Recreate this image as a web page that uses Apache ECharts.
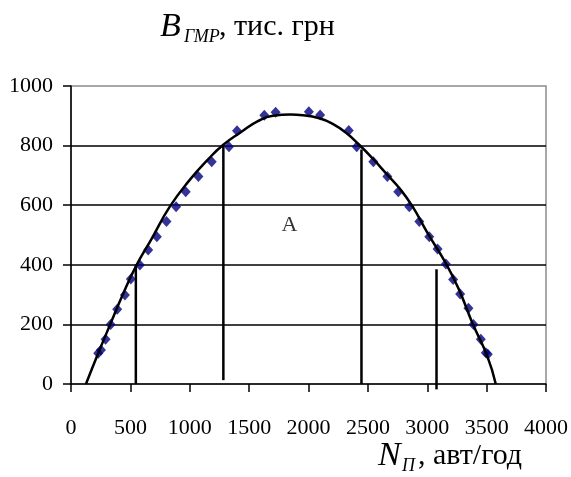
<!DOCTYPE html>
<html>
<head>
<meta charset="utf-8">
<script src="https://cdn.jsdelivr.net/npm/echarts@6/dist/echarts.min.js"></script>
<style>html,body{margin:0;padding:0;background:#fff;}#c{width:571px;height:477px;}</style>
</head>
<body>
<div id="c"></div>
<script>
// Observed points (diamonds)
const pointX = [229,252,291,334,389,454,504,580,650,723,804,885,966,1073,1185,1330,1398,1628,1723,2003,2098,2339,2406,2546,2664,2756,2849,2933,3017,3087,3157,3218,3277,3347,3389,3451,3493,3510];
const pointY = [103,114,150,200,251,299,352,399,450,494,545,595,645,696,746,796,850,902,912,914,903,851,796,746,696,645,595,545,494,453,403,351,302,254,200,150,105,100];
// Fitted curve
const curveX = [126,229,328,440,552,680,832,1000,1150,1280,1430,1574,1700,1850,1952,2092,2204,2316,2429,2540,2653,2770,2877,3003,3157,3269,3381,3507,3577];
const curveY = [0,103,198,304,399,488,595,685,752,802,845,882,900,904,902,892,873,843,802,757,707,655,595,506,405,315,204,92,0];
// Vertical segments: [x, y]
const vLine1 = [[546,0],[546,400]];
const vLine2 = [[1283,13],[1283,800]];
const vLine3 = [[2446,0],[2446,787]];
const vLine4 = [[3078,-18],[3078,385]];
// Region label
const regionLabel = [[1840,534,'A']];
const xTicks = [0,500,1000,1500,2000,2500,3000,3500,4000];
const yTicks = [0,200,400,600,800,1000];

const zip = (a,b)=>a.map((v,i)=>[v,b[i]]);
const serif = '"Liberation Serif","DejaVu Serif",serif';
const seg = d => ({type:'line', data:d, symbol:'none', clip:false, lineStyle:{color:'#000', width:2.5}, z:3});

const chart = echarts.init(document.getElementById('c'), null, {renderer:'canvas'});
chart.setOption({
  animation:false,
  backgroundColor:'#fff',
  grid:{left:71, right:24, top:86, bottom:93, show:true, borderColor:'#8c8c8c', borderWidth:1.5, backgroundColor:'transparent'},
  xAxis:{type:'value', min:xTicks[0], max:xTicks[xTicks.length-1], interval:500,
    axisLine:{show:true, onZero:false, lineStyle:{color:'#000', width:1.5}},
    axisTick:{show:true, length:8, lineStyle:{color:'#000', width:1.5}},
    axisLabel:{margin:33, color:'#000', fontFamily:serif, fontSize:22, formatter:v=>String(v)},
    splitLine:{show:false}},
  yAxis:{type:'value', min:yTicks[0], max:yTicks[yTicks.length-1], interval:200,
    axisLine:{show:true, onZero:false, lineStyle:{color:'#000', width:1.5}},
    axisTick:{show:true, length:8, lineStyle:{color:'#000', width:1.5}},
    axisLabel:{margin:18, color:'#000', fontFamily:serif, fontSize:22, formatter:v=>String(v)},
    splitLine:{show:true, showMinLine:false, showMaxLine:false, lineStyle:{color:'#000', width:1.5}}},
  graphic:[
    {type:'text', left:160, top:10, style:{text:'B', font:'italic 34px '+serif, fill:'#000'}},
    {type:'text', left:184, top:28, style:{text:'ГМР', font:'italic 18px '+serif, fill:'#000'}},
    {type:'text', left:219, top:12, style:{text:', тис. грн', font:'30px '+serif, fill:'#000'}},
    {type:'text', left:378, top:439, style:{text:'N', font:'italic 34px '+serif, fill:'#000'}},
    {type:'text', left:402, top:457, style:{text:'П', font:'italic 18px '+serif, fill:'#000'}},
    {type:'text', left:418, top:441, style:{text:', авт/год', font:'30px '+serif, fill:'#000'}}
  ],
  series:[
    {type:'line', data:zip(curveX,curveY), symbol:'none', smooth:0.5, lineStyle:{color:'#000', width:2.5}, z:4},
    {type:'scatter', data:zip(pointX,pointY), symbol:'diamond', symbolSize:[10,11], itemStyle:{color:'#000080'}, z:3},
    seg(vLine1), seg(vLine2), seg(vLine3), seg(vLine4),
    {type:'scatter', data:regionLabel, symbolSize:0, label:{show:true, position:'inside', formatter:p=>p.data[2], color:'#000', fontFamily:serif, fontSize:22}, z:5}
  ]
});
</script>
</body>
</html>
